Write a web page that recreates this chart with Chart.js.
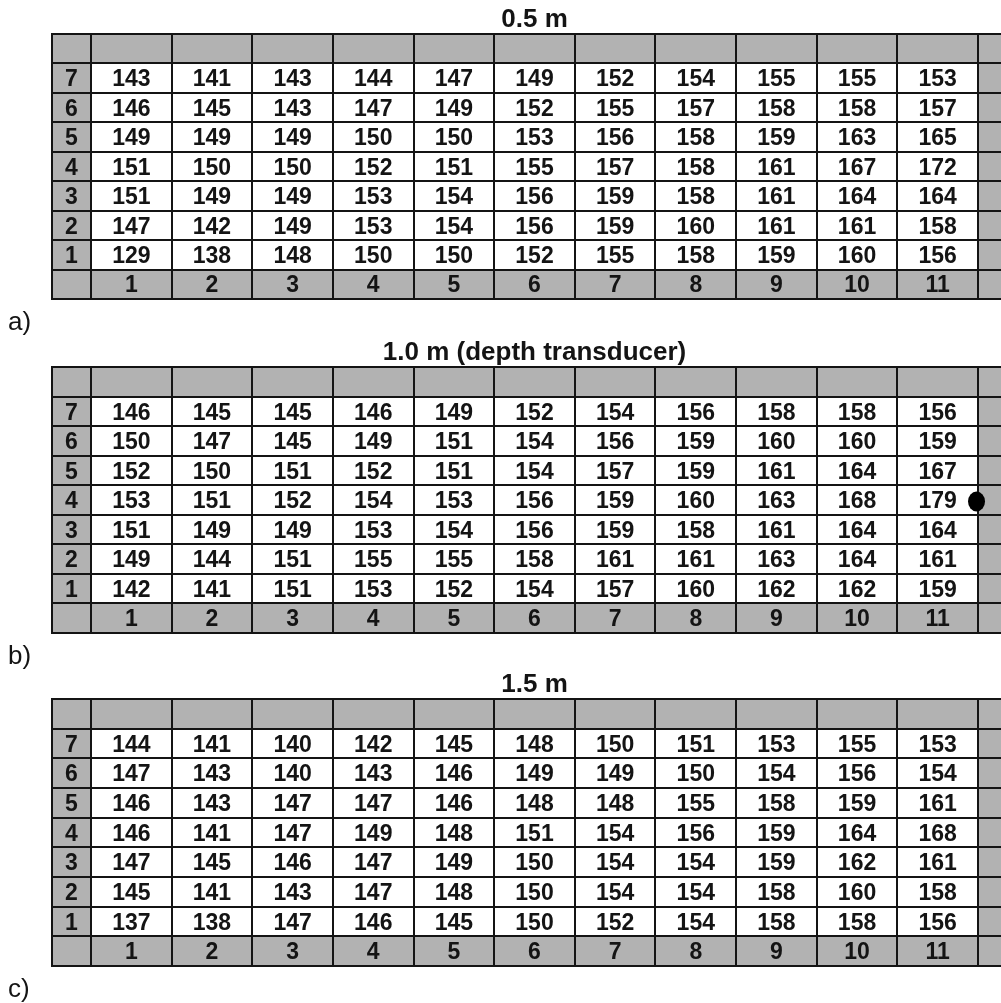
<!DOCTYPE html>
<html>
<head>
<meta charset="utf-8">
<script src="https://cdn.jsdelivr.net/npm/chart.js@4.4.1/dist/chart.umd.min.js"></script>
<style>
  html, body { margin: 0; padding: 0; background: #fff; width: 1001px; height: 1003px; overflow: hidden; }
  canvas.panel { position: absolute; left: 0; }
</style>
</head>
<body>
<canvas id="panelA" class="panel"></canvas>
<canvas id="panelB" class="panel"></canvas>
<canvas id="panelC" class="panel"></canvas>
<script>
// Grid labels
const columnLabels = ['1', '2', '3', '4', '5', '6', '7', '8', '9', '10', '11'];
const rowLabels = ['1', '2', '3', '4', '5', '6', '7'];          // bottom to top
const depthTitles = ['0.5 m', '1.0 m (depth transducer)', '1.5 m'];
const panelLetters = ['a)', 'b)', 'c)'];

// Readings per depth; first line is row 7, last line is row 1
const values05 = [
  [143, 141, 143, 144, 147, 149, 152, 154, 155, 155, 153],
  [146, 145, 143, 147, 149, 152, 155, 157, 158, 158, 157],
  [149, 149, 149, 150, 150, 153, 156, 158, 159, 163, 165],
  [151, 150, 150, 152, 151, 155, 157, 158, 161, 167, 172],
  [151, 149, 149, 153, 154, 156, 159, 158, 161, 164, 164],
  [147, 142, 149, 153, 154, 156, 159, 160, 161, 161, 158],
  [129, 138, 148, 150, 150, 152, 155, 158, 159, 160, 156]
];
const values10 = [
  [146, 145, 145, 146, 149, 152, 154, 156, 158, 158, 156],
  [150, 147, 145, 149, 151, 154, 156, 159, 160, 160, 159],
  [152, 150, 151, 152, 151, 154, 157, 159, 161, 164, 167],
  [153, 151, 152, 154, 153, 156, 159, 160, 163, 168, 179],
  [151, 149, 149, 153, 154, 156, 159, 158, 161, 164, 164],
  [149, 144, 151, 155, 155, 158, 161, 161, 163, 164, 161],
  [142, 141, 151, 153, 152, 154, 157, 160, 162, 162, 159]
];
const values15 = [
  [144, 141, 140, 142, 145, 148, 150, 151, 153, 155, 153],
  [147, 143, 140, 143, 146, 149, 149, 150, 154, 156, 154],
  [146, 143, 147, 147, 146, 148, 148, 155, 158, 159, 161],
  [146, 141, 147, 149, 148, 151, 154, 156, 159, 164, 168],
  [147, 145, 146, 147, 149, 150, 154, 154, 159, 162, 161],
  [145, 141, 143, 147, 148, 150, 154, 154, 158, 160, 158],
  [137, 138, 147, 146, 145, 150, 152, 154, 158, 158, 156]
];

// Depth transducer position (right edge of column 11, row 4) on the 1.0 m grid
const transducerColumn = [11];
const transducerRow = [4];

// ---- drawing ----
const PAD_TOP = 34, PAD_LEFT = 52, PAD_BOTTOM = 36;
const X_MIN = -0.4836, X_MAX = 11.285;   // label column to the left of 0, grey strip right of 11
const Y_MIN = -1, Y_MAX = 8;             // column-number row below 0, empty header row above 7
const GREY = '#b2b2b2', INK = '#141414';
const FONT = '"Liberation Sans", Arial, sans-serif';

const tablePlugin = {
  id: 'tablePlugin',
  beforeDatasetsDraw(chart) {
    const ctx = chart.ctx, xs = chart.scales.x, ys = chart.scales.y;
    const X = v => xs.getPixelForValue(v), Y = v => ys.getPixelForValue(v);
    const L = X(X_MIN), R = X(X_MAX), T = Y(Y_MAX), B = Y(Y_MIN);
    ctx.save();
    ctx.fillStyle = '#fff';
    ctx.fillRect(L, T, R - L, B - T);
    ctx.fillStyle = GREY;
    ctx.fillRect(L, Y(8), R - L, Y(7) - Y(8));      // header row
    ctx.fillRect(L, Y(0), R - L, Y(-1) - Y(0));     // column-number row
    ctx.fillRect(L, T, X(0) - L, B - T);            // row-number column
    ctx.fillRect(X(11), T, R - X(11), B - T);       // right strip
    ctx.strokeStyle = INK;
    ctx.lineWidth = 2;
    ctx.beginPath();
    for (let r = Y_MIN; r <= Y_MAX; r++) {
      const py = Math.round(Y(r));
      ctx.moveTo(L - 1, py); ctx.lineTo(R, py);
    }
    const vx = [X_MIN];
    for (let c = 0; c <= 11; c++) vx.push(c);
    vx.forEach(c => {
      const px = Math.round(X(c));
      ctx.moveTo(px, Math.round(T) - 1); ctx.lineTo(px, Math.round(B) + 1);
    });
    ctx.stroke();
    ctx.restore();
  },
  afterDatasetsDraw(chart, args, opts) {
    const ctx = chart.ctx, xs = chart.scales.x, ys = chart.scales.y;
    const X = v => xs.getPixelForValue(v), Y = v => ys.getPixelForValue(v);
    const capHalf = 8.2;
    ctx.save();
    ctx.fillStyle = INK;
    ctx.font = 'bold 23px ' + FONT;
    ctx.textAlign = 'center';
    ctx.textBaseline = 'alphabetic';
    // cell values
    const meta = chart.getDatasetMeta(0);
    const pts = chart.data.datasets[0].data;
    meta.data.forEach((el, i) => ctx.fillText(String(pts[i].v), el.x, el.y + capHalf));
    // row numbers
    rowLabels.forEach((lab, i) => ctx.fillText(lab, X(X_MIN / 2), Y(i + 0.5) + capHalf));
    // column numbers
    columnLabels.forEach((lab, i) => ctx.fillText(lab, X(i + 0.5), Y(-0.5) + capHalf));
    // depth title
    ctx.font = 'bold 26px ' + FONT;
    ctx.fillText(opts.title, X(5.5), Y(Y_MAX) - 7);
    // panel letter
    ctx.font = '26px ' + FONT;
    ctx.textAlign = 'left';
    ctx.fillText(opts.letter, 8, Y(Y_MIN) + 31);
    // transducer marker
    if (chart.data.datasets[1]) {
      const m = chart.getDatasetMeta(1).data[0];
      ctx.beginPath();
      ctx.ellipse(m.x - 1.5, m.y + 1.5, 8.5, 10, 0, 0, Math.PI * 2);
      ctx.fillStyle = '#000';
      ctx.fill();
    }
    ctx.restore();
  }
};

function makePanel(canvasId, tableTop, tableHeight, values, title, letter, marker) {
  const canvas = document.getElementById(canvasId);
  canvas.width = 1001;
  canvas.height = PAD_TOP + tableHeight + PAD_BOTTOM;
  canvas.style.top = (tableTop - PAD_TOP) + 'px';
  const cells = [];
  values.forEach((row, i) => {
    const r = rowLabels.length - i;
    row.forEach((v, j) => cells.push({ x: j + 0.5, y: r - 0.5, v: v }));
  });
  const datasets = [{ data: cells, pointRadius: 0, showLine: false }];
  if (marker) {
    datasets.push({
      data: marker.cols.map((c, k) => ({ x: c, y: marker.rows[k] - 0.5 })),
      pointRadius: 0, showLine: false
    });
  }
  return new Chart(canvas, {
    type: 'scatter',
    data: { datasets },
    options: {
      responsive: false,
      animation: false,
      devicePixelRatio: 1,
      events: [],
      layout: { padding: { top: PAD_TOP, left: PAD_LEFT, right: 0, bottom: PAD_BOTTOM } },
      scales: {
        x: { type: 'linear', min: X_MIN, max: X_MAX, display: false },
        y: { type: 'linear', min: Y_MIN, max: Y_MAX, display: false }
      },
      plugins: {
        legend: { display: false },
        tooltip: { enabled: false },
        tablePlugin: { title, letter }
      }
    },
    plugins: [tablePlugin]
  });
}

makePanel('panelA', 34, 265, values05, depthTitles[0], panelLetters[0], null);
makePanel('panelB', 367, 266, values10, depthTitles[1], panelLetters[1], { cols: transducerColumn, rows: transducerRow });
makePanel('panelC', 699, 267, values15, depthTitles[2], panelLetters[2], null);
</script>
</body>
</html>
